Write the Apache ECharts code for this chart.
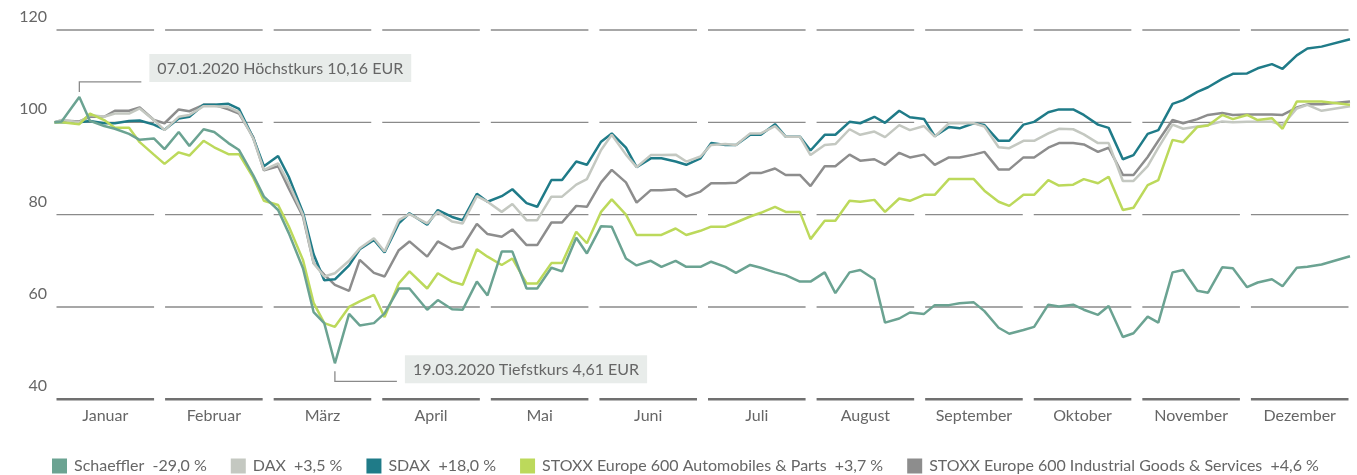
<!DOCTYPE html>
<html>
<head>
    <meta charset="utf-8">
    <script src="https://cdn.jsdelivr.net/npm/echarts@6/dist/echarts.min.js"></script>
    <style>
        html, body { margin: 0; padding: 0; background: #fff; }
    </style>
</head>
<body>
<div id="main" style="width: 1357px;height:475px"></div>

<script type="text/javascript">
    // Stichtage (ca. zweimal pro Woche), Index 31.12.2019 = 100
    var dates = [
        '2019-12-31', '2020-01-02', '2020-01-07', '2020-01-10', '2020-01-14', '2020-01-17', '2020-01-21', '2020-01-24', '2020-01-28', '2020-01-31',
        '2020-02-04', '2020-02-07', '2020-02-11', '2020-02-14', '2020-02-18', '2020-02-21', '2020-02-25', '2020-02-28',
        '2020-03-03', '2020-03-06', '2020-03-10', '2020-03-13', '2020-03-16', '2020-03-19', '2020-03-23', '2020-03-26', '2020-03-30',
        '2020-04-02', '2020-04-06', '2020-04-09', '2020-04-14', '2020-04-17', '2020-04-21', '2020-04-24', '2020-04-28',
        '2020-05-01', '2020-05-05', '2020-05-08', '2020-05-12', '2020-05-15', '2020-05-19', '2020-05-22', '2020-05-26', '2020-05-29',
        '2020-06-02', '2020-06-05', '2020-06-09', '2020-06-12', '2020-06-16', '2020-06-19', '2020-06-23', '2020-06-26', '2020-06-30',
        '2020-07-03', '2020-07-07', '2020-07-10', '2020-07-14', '2020-07-17', '2020-07-21', '2020-07-24', '2020-07-28', '2020-07-31',
        '2020-08-04', '2020-08-07', '2020-08-11', '2020-08-14', '2020-08-18', '2020-08-21', '2020-08-25', '2020-08-28',
        '2020-09-01', '2020-09-04', '2020-09-08', '2020-09-11', '2020-09-15', '2020-09-18', '2020-09-22', '2020-09-25', '2020-09-29',
        '2020-10-02', '2020-10-06', '2020-10-09', '2020-10-13', '2020-10-16', '2020-10-20', '2020-10-23', '2020-10-27', '2020-10-30',
        '2020-11-03', '2020-11-06', '2020-11-10', '2020-11-13', '2020-11-17', '2020-11-20', '2020-11-24', '2020-11-27',
        '2020-12-01', '2020-12-04', '2020-12-08', '2020-12-11', '2020-12-15', '2020-12-18', '2020-12-22', '2020-12-30'
    ];

    var schaeffler = [
        100, 100.2, 105.5, 100.3, 99.2, 98.6, 97.5, 96.2, 96.5, 94.2,
        97.9, 94.9, 98.5, 97.9, 95.5, 94, 88.5, 83.9,
        81, 76, 68.4, 58.9, 56.5, 47.8, 58.5, 56, 56.5,
        58.6, 64, 64, 59.4, 61.5, 59.5, 59.4, 65.5,
        62.5, 72, 72, 64, 64, 68.5, 67.7, 75, 71.6,
        77.5, 77.4, 70.5, 69, 70, 68.7, 70, 68.7, 68.7,
        69.8, 68.7, 67.4, 69.1, 68.5, 67.5, 66.9, 65.5, 65.5,
        67.5, 63, 67.5, 68, 66, 56.6, 57.5, 58.8,
        58.5, 60.4, 60.4, 60.8, 61, 59.1, 55.5, 54.2, 55,
        55.7, 60.5, 60.1, 60.5, 59.4, 58.3, 60.2, 53.5, 54.3,
        57.9, 56.6, 67.5, 68, 63.5, 63.1, 68.6, 68.4,
        64.3, 65.3, 66, 64.5, 68.5, 68.7, 69.2, 71
    ];

    var dax = [
        100, 100.5, 100, 101.6, 101.2, 101.9, 101.9, 103, 100.5, 98.3,
        101.2, 101.6, 103.5, 103.5, 103.3, 102.2, 96.5, 89.7,
        91.1, 86.8, 80, 69.5, 66.6, 67.3, 70, 72.7, 74.9,
        72, 78.8, 80.1, 78.1, 80.6, 78.5, 78.1, 84,
        82.8, 80.6, 82.3, 78.8, 78.8, 83.9, 83.9, 86.5, 87.7,
        94, 97.3, 93, 90.3, 92.9, 92.9, 93, 91.5, 92.6,
        95.1, 95.3, 95.1, 97.6, 97.6, 99.2, 96.9, 96.9, 92.9,
        95.1, 95.3, 98.5, 97.3, 98, 96.8, 99.4, 98.3,
        99.2, 96.9, 99.8, 99.8, 99.8, 99.1, 94.6, 94.4, 96,
        96, 97.6, 98.6, 98.5, 97.4, 95.5, 95.5, 87.3, 87.3,
        90.5, 94.5, 99.5, 98.6, 99.1, 99.4, 100.2, 100,
        100.1, 100.1, 100.1, 99.4, 103, 103.8, 102.5, 103.5
    ];

    var sdax = [
        100, 100, 100, 100.3, 99.8, 99.8, 100.3, 100.4, 99.5, 98.4,
        100.8, 101.2, 103.8, 103.8, 104, 102.9, 96.6, 90.5,
        92.7, 88.2, 80.5, 71.4, 65.8, 66, 69, 72.5, 74.5,
        71.8, 78.1, 80.3, 77.8, 81, 79.5, 78.8, 84.5,
        82.8, 84, 85.5, 82.5, 81.7, 87.5, 87.5, 91.5, 90.8,
        95.8, 97.6, 94.5, 90.3, 92.2, 92.2, 91.5, 90.8, 92.2,
        95.5, 95.1, 95.1, 97.3, 97.3, 99.6, 96.9, 96.9, 93.9,
        97.3, 97.3, 100.1, 99.8, 101.2, 99.9, 102.5, 101.1,
        100.7, 97, 99, 98.7, 99.8, 99.4, 96, 96, 99.5,
        100.1, 102.2, 102.8, 102.8, 101.6, 99.5, 98.8, 92, 92.9,
        97.5, 98.3, 104, 104.8, 106.6, 107.6, 109.4, 110.5,
        110.6, 111.7, 112.6, 111.6, 114.5, 116, 116.4, 118
    ];

    var autos = [
        100, 100, 99.6, 101.9, 100.5, 98.8, 98.8, 95.7, 93, 91,
        93.5, 92.8, 96, 94.6, 93.1, 93.1, 88, 83,
        82.1, 77.5, 70.2, 60.9, 56.5, 55.7, 60, 61.2, 62.6,
        57.8, 65.1, 67.7, 64, 67.3, 65.5, 64.8, 72.5,
        70.9, 69.1, 70.5, 65.1, 65.1, 69.5, 69.5, 76.3, 73.8,
        80.6, 83.3, 80, 75.6, 75.6, 75.6, 77, 75.6, 76.5,
        77.4, 77.4, 78.3, 79.6, 80.4, 81.7, 80.6, 80.6, 74.7,
        78.7, 78.7, 83, 82.8, 83.2, 80.6, 83.5, 83,
        84.3, 84.3, 87.7, 87.7, 87.7, 85.2, 82.8, 81.9, 84.3,
        84.3, 87.5, 86.3, 86.5, 87.7, 86.8, 88.2, 81, 81.5,
        86.4, 87.5, 96.2, 95.7, 99, 99.3, 101.6, 100.7,
        101.6, 100.5, 100.9, 98.6, 104.5, 104.5, 104.5, 103.8
    ];

    var industrials = [
        100, 100.4, 100.2, 101.2, 101.2, 102.5, 102.5, 103.2, 100.5, 99.8,
        102.8, 102.4, 103.8, 103.8, 102.8, 101.9, 96.8, 89.6,
        90.5, 85.7, 79.6, 69.5, 67, 64.8, 63.5, 70.2, 67.4,
        66.6, 72.3, 74.2, 70.9, 74.2, 72.5, 73.1, 78,
        75.8, 75.2, 76.8, 73.4, 73.4, 78.3, 78.3, 81.9, 81.7,
        87, 89.7, 87, 82.6, 85.3, 85.3, 85.5, 83.9, 85,
        86.8, 86.8, 86.9, 89, 89, 90, 88.6, 88.6, 86.2,
        90.5, 90.5, 93, 91.7, 92, 90.8, 93.4, 92.4,
        93, 90.8, 92.4, 92.4, 93, 93.6, 89.8, 89.8, 92.4,
        92.4, 94.5, 95.5, 95.5, 95.2, 93.6, 94.5, 88.6, 88.6,
        92.5, 96, 100.5, 99.8, 100.7, 101.6, 102, 101.6,
        101.7, 101.7, 101.7, 101.6, 103.2, 103.9, 103.9, 104.5
    ];

    var months = ['Januar', 'Februar', 'März', 'April', 'Mai', 'Juni', 'Juli',
        'August', 'September', 'Oktober', 'November', 'Dezember'];
    var yTicks = [40, 60, 80, 100, 120];

    var seriesNames = ['Schaeffler', 'DAX', 'SDAX', 'STOXX Europe 600 Automobiles & Parts',
        'STOXX Europe 600 Industrial Goods & Services'];
    var changes = ['-29,0 %', '+3,5 %', '+18,0 %', '+3,7 %', '+4,6 %'];
    var colors = ['#6ba392', '#c4c8c1', '#1f7b88', '#bcd95b', '#8d8d8d'];

    var highNote = { date: '2020-01-07', text: '07.01.2020 Höchstkurs 10,16 EUR' };
    var lowNote = { date: '2020-03-19', text: '19.03.2020 Tiefstkurs 4,61 EUR' };

    var FONT = 'Lato';
    var TEXT = '#666';

    function toTime(s) {
        var p = s.split('-');
        return new Date(+p[0], +p[1] - 1, +p[2]).getTime();
    }

    function pairs(values) {
        return dates.map(function (d, i) { return [toTime(d), values[i]]; });
    }

    // Gitterlinien je Monat als einzelne Stücke (mit Lücke dazwischen)
    var gridData = [];
    months.forEach(function (m, i) {
        yTicks.forEach(function (v) { gridData.push([i, v]); });
    });

    var chartDom = document.getElementById('main');
    var myChart = echarts.init(chartDom);
    var option;

    var lineSeries = [
        { data: schaeffler, idx: 0, z: 6 },
        { data: dax, idx: 1, z: 4 },
        { data: sdax, idx: 2, z: 3 },
        { data: autos, idx: 3, z: 5 },
        { data: industrials, idx: 4, z: 2 }
    ].map(function (s) {
        return {
            name: seriesNames[s.idx],
            type: 'line',
            xAxisIndex: 0,
            yAxisIndex: 0,
            data: pairs(s.data),
            showSymbol: false,
            symbol: 'none',
            z: s.z,
            lineStyle: { color: colors[s.idx], width: 2.5 },
            itemStyle: { color: colors[s.idx] },
            animation: false
        };
    });

    option = {
        animation: false,
        textStyle: { fontFamily: FONT },
        color: colors,
        grid: [
            { left: 54.5, right: 7, top: 30, height: 369.3 },
            { left: 51, right: 3, top: 30, height: 369.3 }
        ],
        xAxis: [
            {
                type: 'time', gridIndex: 0, show: false,
                min: toTime('2019-12-31'), max: toTime('2020-12-30')
            },
            {
                type: 'category', gridIndex: 1, data: months,
                axisLine: { show: false }, axisTick: { show: false },
                axisLabel: { color: TEXT, fontSize: 16, fontFamily: FONT, margin: 9 }
            }
        ],
        yAxis: [
            { type: 'value', gridIndex: 0, min: 40, max: 120, interval: 20, show: false },
            {
                type: 'value', gridIndex: 1, min: 40, max: 120, interval: 20,
                axisLine: { show: false }, axisTick: { show: false },
                splitLine: { show: false },
                axisLabel: {
                    color: TEXT, fontSize: 16, fontFamily: FONT, margin: 4,
                    verticalAlign: 'bottom', padding: [0, 0, 5, 0]
                }
            }
        ],
        legend: {
            left: 52,
            top: 458,
            padding: 0,
            icon: 'rect',
            itemWidth: 15,
            itemHeight: 15,
            itemGap: 24,
            selectedMode: false,
            data: seriesNames,
            formatter: function (name) {
                return name + '  ' + changes[seriesNames.indexOf(name)];
            },
            textStyle: { color: TEXT, fontSize: 16, fontFamily: FONT, padding: [0, 0, 0, 2] }
        },
        series: [{
            type: 'custom',
            xAxisIndex: 1,
            yAxisIndex: 1,
            z: 1,
            silent: true,
            data: gridData,
            renderItem: function (params, api) {
                var v = api.value(1);
                var c = api.coord([api.value(0), v]);
                var w = api.size([1, 0])[0];
                var gap = 11;
                var bottom = v === yTicks[0];
                return {
                    type: 'line',
                    shape: { x1: c[0] - w / 2 + gap / 2, y1: c[1], x2: c[0] + w / 2 - gap / 2, y2: c[1] },
                    style: { stroke: bottom ? '#707070' : '#8a8a8a', lineWidth: bottom ? 2.5 : 1.3 }
                };
            }
        }].concat(lineSeries)
    };

    option && myChart.setOption(option);

    // Anmerkungen Höchst- und Tiefstkurs, verankert an den Datenpunkten
    function noteAt(note, above) {
        var i = dates.indexOf(note.date);
        var p = myChart.convertToPixel({ gridIndex: 0 }, [toTime(note.date), schaeffler[i]]);
        var x = p[0], y = p[1];
        var els = [];
        var lineY, vy1, boxY;
        if (above) {
            vy1 = y - 5; lineY = y - 15; boxY = y - 43;
        } else {
            vy1 = y + 8; lineY = y + 18; boxY = y - 8;
        }
        els.push({
            type: 'polyline', silent: true,
            shape: { points: [[x, vy1], [x, lineY], [x + 62, lineY]] },
            style: { stroke: '#8a8a8a', lineWidth: 1.3, fill: null }
        });
        els.push({
            type: 'text', silent: true,
            x: x + 70, y: boxY,
            style: {
                text: note.text, fill: TEXT, fontSize: 16, fontFamily: FONT,
                backgroundColor: '#e8ecea', padding: [6, 8, 5, 8],
                lineHeight: 17
            }
        });
        return els;
    }

    myChart.setOption({
        graphic: noteAt(highNote, true).concat(noteAt(lowNote, false))
    });
</script>
</body>
</html>
